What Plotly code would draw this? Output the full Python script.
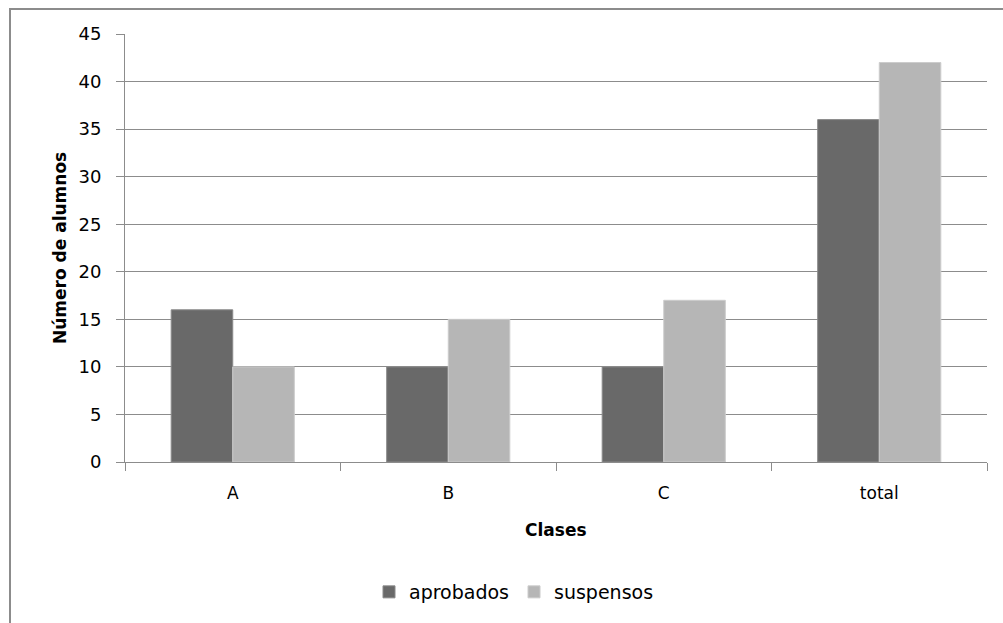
import plotly.graph_objects as go

# Students per class, passed vs failed
clases = ["A", "B", "C", "total"]
aprobados = [16, 10, 10, 36]
suspensos = [10, 15, 17, 42]
y_ticks = [0, 5, 10, 15, 20, 25, 30, 35, 40, 45]

FONT = "DejaVu Sans"
GRID = "#8c8c8c"

fig = go.Figure()
fig.add_trace(go.Bar(
    x=clases, y=aprobados, name="aprobados",
    marker=dict(color="#696969", line=dict(color="#8a8a8a", width=1)),
))
fig.add_trace(go.Bar(
    x=clases, y=suspensos, name="suspensos",
    marker=dict(color="#b6b6b6", line=dict(color="#cccccc", width=1)),
))

L, R, T, B = 125, 16, 34, 161
W, H = 1003, 623
pw, ph = W - L - R, H - T - B

def px_x(p):
    return (p - L) / pw

def px_y(p):
    return (H - B - p) / ph

fig.update_layout(
    width=W, height=H,
    margin=dict(l=L, r=R, t=T, b=B, pad=0),
    paper_bgcolor="white", plot_bgcolor="white",
    barmode="group", bargap=1.5 / 3.5, bargroupgap=0,
    font=dict(family=FONT, size=17, color="#000000"),
    showlegend=True,
    legend=dict(
        orientation="h", x=px_x(514), xanchor="center",
        y=px_y(592), yanchor="middle",
        font=dict(family=FONT, size=19, color="#000000"),
        itemwidth=30, tracegroupgap=0,
    ),
    xaxis=dict(
        type="category", showgrid=False, showline=True, linecolor=GRID,
        linewidth=1, ticks="outside", tickson="boundaries", ticklen=8,
        tickcolor=GRID, tickfont=dict(family=FONT, size=17),
        ticklabelstandoff=16, zeroline=False,
    ),
    yaxis=dict(
        range=[0, 45], tickvals=y_ticks, showgrid=True, gridcolor=GRID,
        gridwidth=1, showline=True, linecolor=GRID, linewidth=1,
        ticks="outside", ticklen=8, tickcolor=GRID, zeroline=False,
        tickfont=dict(family=FONT, size=18), ticklabelstandoff=11,
    ),
    shapes=[dict(
        type="rect", xref="paper", yref="paper",
        x0=px_x(10), x1=px_x(1010), y0=px_y(630), y1=px_y(9),
        line=dict(color="#8c8c8c", width=2), fillcolor="rgba(0,0,0,0)",
        layer="below",
    )],
    annotations=[
        dict(text="<b>Número de alumnos</b>", xref="paper", yref="paper",
             x=px_x(60), y=px_y(248), textangle=-90, showarrow=False,
             xanchor="center", yanchor="middle",
             font=dict(family=FONT, size=17)),
        dict(text="<b>Clases</b>", xref="paper", yref="paper",
             x=px_x(556), y=px_y(530), showarrow=False,
             xanchor="center", yanchor="middle",
             font=dict(family=FONT, size=17)),
    ],
)

fig.write_html("out.html")
